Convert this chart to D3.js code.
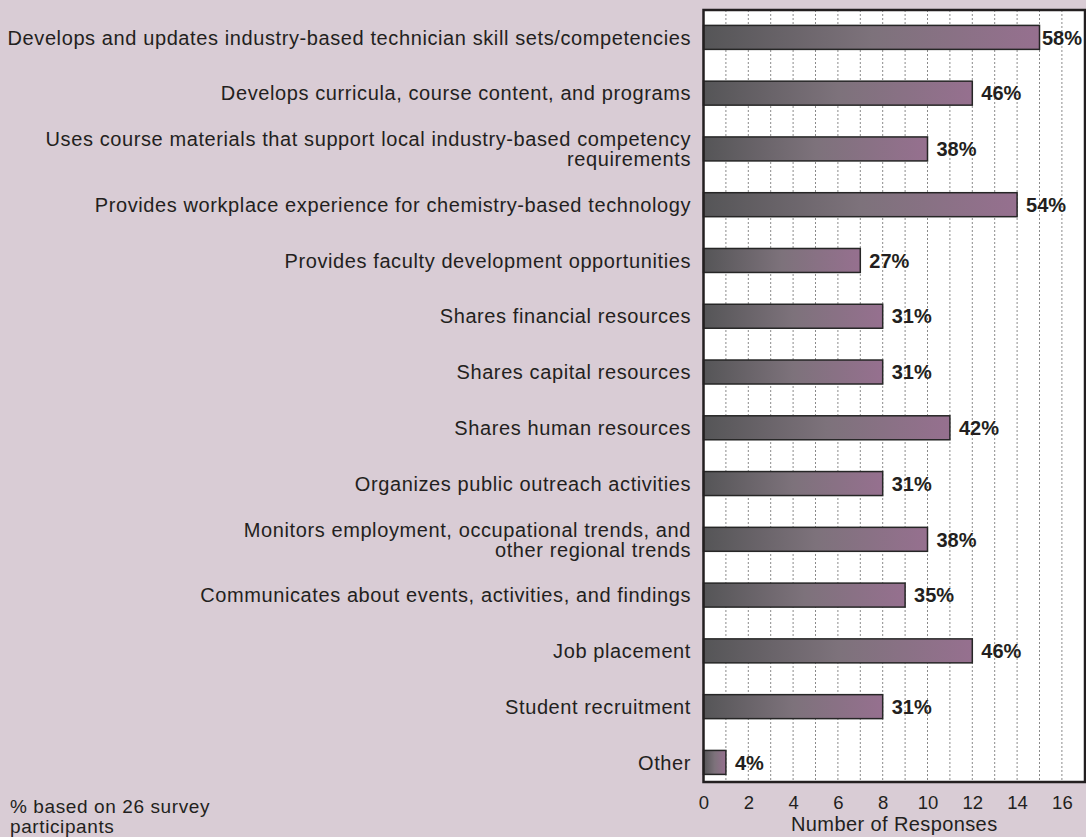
<!DOCTYPE html>
<html>
<head>
<meta charset="utf-8">
<script src="https://cdn.jsdelivr.net/npm/d3@7"></script>
<style>
  html, body { margin: 0; padding: 0; background: #d9ccd5; }
  svg { display: block; }
  text { font-family: "Liberation Sans", Arial, sans-serif; fill: #231f20; }
</style>
</head>
<body>
<svg id="chart" width="1086" height="837"></svg>
<script>
// Partnership activities (lines separated by "\n")
const categories = [
  "Develops and updates industry-based technician skill sets/competencies",
  "Develops curricula, course content, and programs",
  "Uses course materials that support local industry-based competency\nrequirements",
  "Provides workplace experience for chemistry-based technology",
  "Provides faculty development opportunities",
  "Shares financial resources",
  "Shares capital resources",
  "Shares human resources",
  "Organizes public outreach activities",
  "Monitors employment, occupational trends, and\nother regional trends",
  "Communicates about events, activities, and findings",
  "Job placement",
  "Student recruitment",
  "Other"
];
// Number of responses per activity
const responses = [15, 12, 10, 14, 7, 8, 8, 11, 8, 10, 9, 12, 8, 1];
// Share of the 26 participants, as printed beside each bar
const percentLabels = ["58%", "46%", "38%", "54%", "27%", "31%", "31%", "42%", "31%", "38%", "35%", "46%", "31%", "4%"];
const xTicks = [0, 2, 4, 6, 8, 10, 12, 14, 16];
const gridValues = d3.range(1, 17);
const xTitle = "Number of Responses";
const footnote = ["% based on 26 survey", "participants"];

const svg = d3.select("#chart");

const frame = { left: 703.5, top: 10, right: 1085, bottom: 782 };

const x = d3.scaleLinear().domain([0, 17]).range([frame.left, frame.left + 17 * 22.4]);
const y = d3.scaleBand()
  .domain(d3.range(categories.length))
  .range([9.5, 790.3])
  .paddingInner(0.57)
  .paddingOuter(0.285);

// Bar fill: dark grey fading to mauve along each bar
const defs = svg.append("defs");
const grad = defs.append("linearGradient").attr("id", "barGrad")
  .attr("x1", "0%").attr("x2", "100%").attr("y1", "0%").attr("y2", "0%");
grad.append("stop").attr("offset", "0%").attr("stop-color", "#555557");
grad.append("stop").attr("offset", "50%").attr("stop-color", "#7d727b");
grad.append("stop").attr("offset", "100%").attr("stop-color", "#96708f");

// Plot area
svg.append("rect")
  .attr("x", frame.left).attr("y", frame.top)
  .attr("width", frame.right - frame.left).attr("height", frame.bottom - frame.top)
  .attr("fill", "#ffffff");

// Dotted vertical gridlines
svg.append("g").selectAll("line").data(gridValues).join("line")
  .attr("x1", d => x(d)).attr("x2", d => x(d))
  .attr("y1", frame.top).attr("y2", frame.bottom)
  .attr("stroke", "#8a8a8a").attr("stroke-width", 1)
  .attr("stroke-dasharray", "2,2");

// Bars
svg.append("g").selectAll("rect").data(responses).join("rect")
  .attr("x", x(0))
  .attr("y", (d, i) => y(i))
  .attr("width", d => x(d) - x(0))
  .attr("height", y.bandwidth())
  .attr("fill", "url(#barGrad)")
  .attr("stroke", "#262626").attr("stroke-width", 1.5);

// Percent labels, kept inside the plot frame
svg.append("g").selectAll("text").data(responses).join("text")
  .attr("y", (d, i) => y(i) + y.bandwidth() / 2)
  .attr("dy", "0.36em")
  .attr("font-size", 20)
  .attr("font-weight", "bold")
  .text((d, i) => percentLabels[i])
  .attr("x", function (d) {
    const w = this.getComputedTextLength();
    return Math.min(x(d) + 9, frame.right - 3 - w);
  });

// Category labels
const catG = svg.append("g");
categories.forEach((c, i) => {
  const lines = c.split("\n");
  const cy = y(i) + y.bandwidth() / 2;
  const lh = 20;
  const t = catG.append("text")
    .attr("text-anchor", "end")
    .attr("font-size", 20)
    .attr("letter-spacing", 0.6);
  lines.forEach((ln, k) => {
    t.append("tspan")
      .attr("x", 691)
      .attr("y", cy + (k - (lines.length - 1) / 2) * lh)
      .attr("dy", "0.36em")
      .text(ln);
  });
});

// Frame border
svg.append("rect")
  .attr("x", frame.left).attr("y", frame.top)
  .attr("width", frame.right - frame.left).attr("height", frame.bottom - frame.top)
  .attr("fill", "none").attr("stroke", "#231f20").attr("stroke-width", 2.5);

// X axis tick labels
const xAxis = d3.axisBottom(x).tickValues(xTicks).tickSize(0).tickPadding(0);
const ax = svg.append("g").attr("transform", `translate(0, 809)`).call(xAxis);
ax.select(".domain").remove();
ax.selectAll("text")
  .attr("font-size", 18.5)
  .attr("font-family", "Liberation Sans, Arial, sans-serif")
  .attr("fill", "#231f20")
  .attr("dy", "0");

// Axis title
svg.append("text")
  .attr("x", (frame.left + frame.right) / 2)
  .attr("y", 831)
  .attr("text-anchor", "middle")
  .attr("font-size", 20)
  .attr("letter-spacing", 0.4)
  .text(xTitle);

// Footnote
svg.append("text")
  .attr("font-size", 19)
  .attr("letter-spacing", 0.6)
  .selectAll("tspan").data(footnote).join("tspan")
  .attr("x", 10)
  .attr("y", (d, i) => 813 + i * 19.5)
  .text(d => d);
</script>
</body>
</html>
